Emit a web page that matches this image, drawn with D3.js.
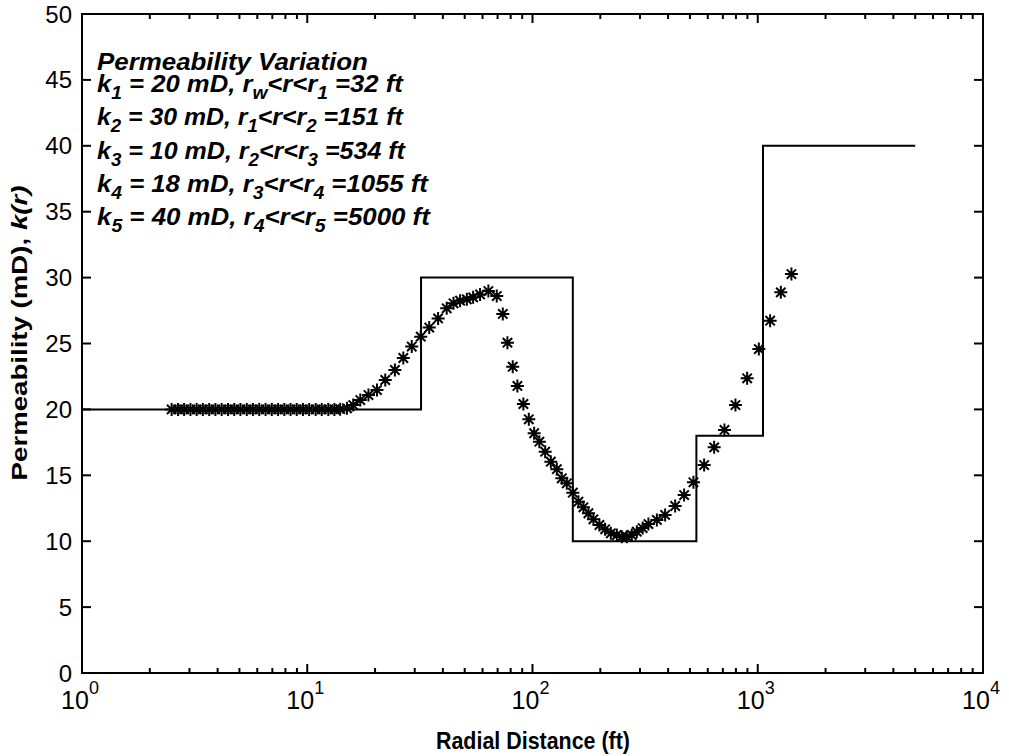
<!DOCTYPE html>
<html>
<head>
<meta charset="utf-8">
<script src="https://cdn.jsdelivr.net/npm/d3@7"></script>
<style>
  body { margin: 0; background: #fff; }
  svg { display: block; }
  text { font-family: "Liberation Sans", Arial, Helvetica, sans-serif; fill: #000; }
</style>
</head>
<body>
<svg id="chart" width="1009" height="756"></svg>
<script>
// Estimated permeability profile k(r) recovered from the pressure derivative (asterisks)
const radiusFt = [
  2.50, 2.67, 2.84, 3.03, 3.23, 3.44, 3.67, 3.91, 4.17, 4.45,
  4.74, 5.05, 5.39, 5.74, 6.12, 6.53, 6.96, 7.42, 7.91, 8.43,
  8.98, 9.57, 10.2, 10.9, 11.6, 12.4, 13.2, 14.0, 15.0,
  16.0, 17.2, 18.7, 20.4, 22.2, 24.5, 26.7, 29.1, 31.9, 34.8,
  38.1, 41.6, 44.6, 47.7, 51.1, 54.5, 58.5, 63.7, 69.4, 73.8,
  77.4, 81.7, 85.7, 91.1, 96.3, 101.7, 107.3, 113.8, 120.6, 128.2,
  134.9, 142.0, 151.0, 159.9, 168.3, 177.1, 186.4, 198.2, 210.1, 222.7,
  236.8, 249.2, 262.3, 276.0, 290.4, 308.3, 327.1, 356.5, 388.0, 429.8,
  471.2, 518.2, 578.1, 640.5, 711.5, 796.1, 897.4, 1011, 1135, 1266,
  1411
];
const permEstimate = [
  20.0, 20.0, 20.0, 20.0, 20.0, 20.0, 20.0, 20.0, 20.0, 20.0,
  20.0, 20.0, 20.0, 20.0, 20.0, 20.0, 20.0, 20.0, 20.0, 20.0,
  20.0, 20.0, 20.0, 20.0, 20.0, 20.0, 20.0, 20.02, 20.08,
  20.33, 20.71, 21.09, 21.47, 22.23, 22.99, 23.9, 24.77, 25.52, 26.21,
  26.9, 27.67, 28.05, 28.25, 28.35, 28.5, 28.72, 28.98, 28.6, 27.24,
  25.06, 23.24, 21.78, 20.41, 19.25, 18.19, 17.55, 16.79, 16.03, 15.46,
  14.77, 14.39, 13.68, 13.0, 12.57, 12.12, 11.66, 11.23, 10.9, 10.6,
  10.47, 10.34, 10.34, 10.47, 10.72, 11.0, 11.3, 11.61, 11.99, 12.67,
  13.5, 14.47, 15.78, 17.12, 18.44, 20.33, 22.36, 24.58, 26.73, 28.88,
  30.27
];

// True layered model: zone outer radii and permeabilities
const zoneEdgesFt = [1, 32, 151, 534, 1055, 5000];
const zonePerm = [20, 30, 10, 18, 40, 40];

const yTickValues = [0, 5, 10, 15, 20, 25, 30, 35, 40, 45, 50];
const xDecades = [1, 10, 100, 1000, 10000];
const xExponents = ["0", "1", "2", "3", "4"];

// Legend lines: each is a list of [text, isSubscript]
const legendTitle = "Permeability Variation";
const legendLines = [
  [["k", 0], ["1", 1], [" = 20 mD, r", 0], ["w", 1], ["<r<r", 0], ["1", 1], [" =32 ft", 0]],
  [["k", 0], ["2", 1], [" = 30 mD, r", 0], ["1", 1], ["<r<r", 0], ["2", 1], [" =151 ft", 0]],
  [["k", 0], ["3", 1], [" = 10 mD, r", 0], ["2", 1], ["<r<r", 0], ["3", 1], [" =534 ft", 0]],
  [["k", 0], ["4", 1], [" = 18 mD, r", 0], ["3", 1], ["<r<r", 0], ["4", 1], [" =1055 ft", 0]],
  [["k", 0], ["5", 1], [" = 40 mD, r", 0], ["4", 1], ["<r<r", 0], ["5", 1], [" =5000 ft", 0]]
];
// right edge of each legend line, so the block keeps its wide MATLAB-style setting
const legendRightEdge = [403, 403, 405, 428, 430];

const svg = d3.select("#chart");
const margin = { left: 82, right: 983, top: 14, bottom: 673 };

const x = d3.scaleLog().domain([1, 10000]).range([margin.left, margin.right]);
const y = d3.scaleLinear().domain([0, 50]).range([margin.bottom, margin.top]);

const ink = "#000";

// stretch a text horizontally (in its own frame) so it spans the given width
function fitWidth(sel, tx, ty, width, rotate) {
  const w = sel.node().getComputedTextLength();
  const k = width / w;
  sel.attr("transform", `translate(${tx},${ty})${rotate ? " rotate(" + rotate + ")" : ""} scale(${k},1)`);
}

// frame
svg.append("rect")
  .attr("x", margin.left).attr("y", margin.top)
  .attr("width", margin.right - margin.left)
  .attr("height", margin.bottom - margin.top)
  .attr("fill", "none").attr("stroke", ink).attr("stroke-width", 2);

// y ticks (inside, both sides)
const majorLen = 9, minorLen = 5;
const yTicksG = svg.append("g");
yTickValues.forEach(v => {
  const yy = y(v);
  yTicksG.append("line").attr("x1", margin.left).attr("x2", margin.left + majorLen)
    .attr("y1", yy).attr("y2", yy).attr("stroke", ink).attr("stroke-width", 2);
  yTicksG.append("line").attr("x1", margin.right).attr("x2", margin.right - majorLen)
    .attr("y1", yy).attr("y2", yy).attr("stroke", ink).attr("stroke-width", 2);
  yTicksG.append("text").attr("x", margin.left - 10).attr("y", yy + 8.5)
    .attr("text-anchor", "end")
    .attr("font-size", 24).text(v);
});

// x ticks: decades (major) and 2..9 (minor), inside, top and bottom
const xTicksG = svg.append("g");
x.ticks().forEach(v => {
  const isMajor = Math.abs(Math.log10(v) - Math.round(Math.log10(v))) < 1e-9;
  const len = isMajor ? majorLen : minorLen;
  const xx = x(v);
  xTicksG.append("line").attr("x1", xx).attr("x2", xx)
    .attr("y1", margin.bottom).attr("y2", margin.bottom - len)
    .attr("stroke", ink).attr("stroke-width", 2);
  xTicksG.append("line").attr("x1", xx).attr("x2", xx)
    .attr("y1", margin.top).attr("y2", margin.top + len)
    .attr("stroke", ink).attr("stroke-width", 2);
});
xDecades.forEach((v, i) => {
  const t = xTicksG.append("text").attr("x", x(v) - 2).attr("y", margin.bottom + 36)
    .attr("text-anchor", "middle").attr("font-size", 25);
  t.append("tspan").text("10");
  t.append("tspan").attr("dy", -15).attr("font-size", 18).text(xExponents[i]);
});

// axis titles
const xTitle = svg.append("text")
  .attr("font-size", 23).attr("font-weight", "bold")
  .text("Radial Distance (ft)");
fitWidth(xTitle, 436, 749, 194);

const yTitle = svg.append("text")
  .attr("text-anchor", "middle").attr("font-size", 22).attr("font-weight", "bold");
yTitle.append("tspan").text("Permeability (mD), ");
yTitle.append("tspan").attr("font-style", "italic").text("k(r)");
fitWidth(yTitle, 27, 333, 295, -90);

// layered model as a step line
const stepData = zoneEdgesFt.map((r, i) => [r, zonePerm[i]]);
svg.append("path")
  .datum(stepData)
  .attr("fill", "none").attr("stroke", ink).attr("stroke-width", 2)
  .attr("d", d3.line().x(d => x(d[0])).y(d => y(d[1])).curve(d3.curveStepAfter));

// asterisk markers for the estimated profile
const s = 6.5, dgn = s * 0.72;
const starPath = `M${-s},0H${s}M0,${-s}V${s}M${-dgn},${-dgn}L${dgn},${dgn}M${-dgn},${dgn}L${dgn},${-dgn}`;
svg.append("g").selectAll("path")
  .data(radiusFt.map((r, i) => [r, permEstimate[i]]))
  .join("path")
  .attr("transform", d => `translate(${x(d[0])},${y(d[1])})`)
  .attr("d", starPath)
  .attr("fill", "none").attr("stroke", ink).attr("stroke-width", 2);

// legend text block
const legendX = 97;
const titleText = svg.append("text")
  .attr("font-size", 24).attr("font-weight", "bold").attr("font-style", "italic")
  .text(legendTitle);
fitWidth(titleText, legendX, 70, 368 - legendX);

legendLines.forEach((parts, li) => {
  const t = svg.append("text")
    .attr("font-size", 24).attr("font-weight", "bold").attr("font-style", "italic");
  let shifted = false;
  parts.forEach(([txt, sub]) => {
    const ts = t.append("tspan").text(txt);
    if (sub && !shifted) { ts.attr("dy", 7).attr("font-size", 18); shifted = true; }
    else if (sub) { ts.attr("font-size", 18); }
    else if (shifted) { ts.attr("dy", -7); shifted = false; }
  });
  fitWidth(t, legendX, 92 + li * 33.3, legendRightEdge[li] - legendX);
});
</script>
</body>
</html>
